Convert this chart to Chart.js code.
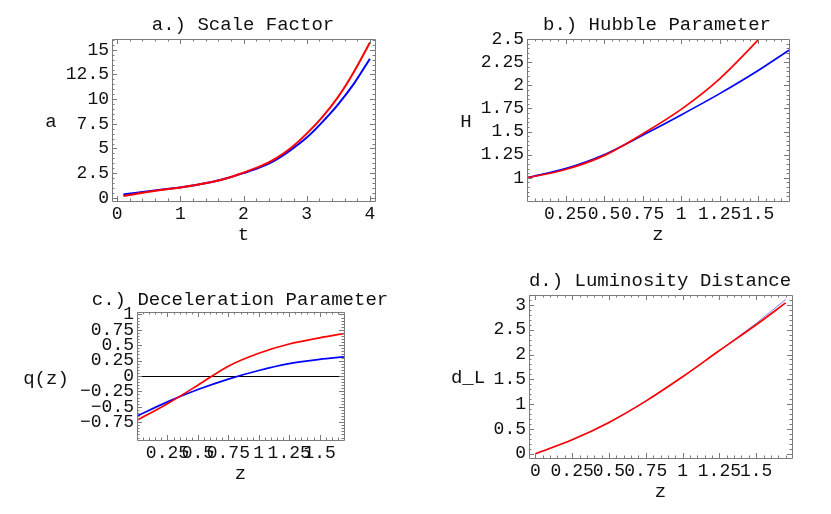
<!DOCTYPE html>
<html><head><meta charset="utf-8">
<script src="https://cdn.jsdelivr.net/npm/chart.js@4/dist/chart.umd.min.js"></script>
<style>
html,body{margin:0;padding:0;background:#fff;}
#wrap{position:relative;width:831px;height:514px;overflow:hidden;background:#fff;}
.pane{position:absolute;left:0;top:0;}
.ylab{position:absolute;font-family:'Liberation Mono',monospace;font-size:19px;color:#111;transform:translate(-50%,-50%);white-space:nowrap;line-height:1;}
</style></head><body>
<div id="wrap">
  <canvas class="pane" id="ca" width="1100" height="514"></canvas>
  <canvas class="pane" id="cb" width="1100" height="514"></canvas>
  <canvas class="pane" id="cc" width="1100" height="514"></canvas>
  <canvas class="pane" id="cd" width="1100" height="514"></canvas>
  <div class="ylab" id="la" style="left:51px;top:122px;"></div>
  <div class="ylab" id="lb" style="left:466px;top:122px;"></div>
  <div class="ylab" id="lc" style="left:46px;top:379px;"></div>
  <div class="ylab" id="ld" style="left:468px;top:378px;"></div>
</div>
<script>
// ---------- a.) Scale Factor ----------
const tA      = [0.1, 0.25, 0.5, 0.75, 1, 1.25, 1.5, 1.75, 2, 2.25, 2.5, 2.75, 3, 3.25, 3.5, 3.75, 4];
const aRed    = [0.17, 0.33, 0.6, 0.83, 1.05, 1.3, 1.6, 2.0, 2.55, 3.15, 3.95, 5.05, 6.5, 8.2, 10.25, 12.8, 15.75];
const aBlue   = [0.33, 0.45, 0.66, 0.86, 1.05, 1.3, 1.6, 2.0, 2.5, 3.05, 3.8, 4.85, 6.1, 7.7, 9.5, 11.6, 14.1];
const aXTicks = [0, 1, 2, 3, 4];
const aXLabels = ['0', '1', '2', '3', '4'];
const aYTicks = [0, 2.5, 5, 7.5, 10, 12.5, 15];
const aYLabels = ['0', '2.5', '5', '7.5', '10', '12.5', '15'];

// ---------- b.) Hubble Parameter ----------
const zB      = [0, 0.25, 0.5, 0.75, 1, 1.25, 1.5, 1.7];
const hRed    = [1.0, 1.09, 1.24, 1.475, 1.74, 2.07, 2.49, 2.85];
const hBlue   = [1.0, 1.10, 1.25, 1.46, 1.68, 1.91, 2.16, 2.38];
const bXTicks = [0.25, 0.5, 0.75, 1, 1.25, 1.5];
const bXLabels = ['0.25', '0.5', '0.75', '1', '1.25', '1.5'];
const bYTicks = [1, 1.25, 1.5, 1.75, 2, 2.25, 2.5];
const bYLabels = ['1', '1.25', '1.5', '1.75', '2', '2.25', '2.5'];

// ---------- c.) Deceleration Parameter ----------
const zC      = [0, 0.25, 0.5, 0.75, 1, 1.25, 1.5, 1.7];
const qRed    = [-0.72, -0.45, -0.15, 0.16, 0.37, 0.52, 0.62, 0.69];
const qBlue   = [-0.65, -0.42, -0.22, -0.05, 0.09, 0.2, 0.27, 0.31];
const cXTicks = [0.25, 0.5, 0.75, 1, 1.25, 1.5];
const cXLabels = ['0.25', '0.5', '0.75', '1', '1.25', '1.5'];
const cYTicks = [-0.75, -0.5, -0.25, 0, 0.25, 0.5, 0.75, 1];
const cYLabels = ['\u22120.75', '\u22120.5', '\u22120.25', '0', '0.25', '0.5', '0.75', '1'];

// ---------- d.) Luminosity Distance ----------
const zD      = [0, 0.25, 0.5, 0.75, 1, 1.25, 1.5, 1.7];
const dRed    = [0, 0.28, 0.63, 1.06, 1.55, 2.08, 2.6, 3.04];
const dBlue   = [0, 0.28, 0.63, 1.06, 1.55, 2.08, 2.63, 3.11];
const dXTicks = [0, 0.25, 0.5, 0.75, 1, 1.25, 1.5];
const dXLabels = ['0', '0.25', '0.5', '0.75', '1', '1.25', '1.5'];
const dYTicks = [0, 0.5, 1, 1.5, 2, 2.5, 3];
const dYLabels = ['0', '0.5', '1', '1.5', '2', '2.5', '3'];

const titles = ['a.) Scale Factor', 'b.) Hubble Parameter', 'c.) Deceleration Parameter', 'd.) Luminosity Distance'];
const xTitles = ['t', 'z', 'z', 'z'];
const yTitles = ['a', 'H', 'q(z)', 'd_L'];

const FONT = "'Liberation Mono', 'DejaVu Sans Mono', monospace";
const TXT = '#111';
const CW = 1100, CH = 514;

const framePlugin = {
  id: 'frameTicks',
  afterDatasetsDraw(chart, args, opts) {
    const ctx = chart.ctx, a = chart.chartArea;
    const xs = chart.scales.x, ys = chart.scales.y;
    ctx.save();
    ctx.strokeStyle = '#7a7a7a';
    ctx.lineWidth = 1;
    ctx.beginPath();
    ctx.rect(Math.round(a.left) + 0.5, Math.round(a.top) + 0.5, Math.round(a.right - a.left), Math.round(a.bottom - a.top));
    ctx.stroke();
    const tickSet = (scale, majors, minorStep) => {
      const out = [];
      for (const v of majors) out.push([v, 5]);
      const n0 = Math.ceil(scale.min / minorStep - 1e-9), n1 = Math.floor(scale.max / minorStep + 1e-9);
      for (let k = n0; k <= n1; k++) {
        const v = k * minorStep;
        if (!majors.some(m => Math.abs(m - v) < 1e-9)) out.push([v, 2.5]);
      }
      return out;
    };
    ctx.beginPath();
    for (const [v, len] of tickSet(xs, opts.xMajor, opts.xMinor)) {
      const px = Math.round(xs.getPixelForValue(v)) + 0.5;
      if (px < a.left || px > a.right) continue;
      ctx.moveTo(px, a.bottom); ctx.lineTo(px, a.bottom - len);
      ctx.moveTo(px, a.top); ctx.lineTo(px, a.top + len);
    }
    for (const [v, len] of tickSet(ys, opts.yMajor, opts.yMinor)) {
      const py = Math.round(ys.getPixelForValue(v)) + 0.5;
      if (py < a.top || py > a.bottom) continue;
      ctx.moveTo(a.left, py); ctx.lineTo(a.left + len, py);
      ctx.moveTo(a.right, py); ctx.lineTo(a.right - len, py);
    }
    ctx.stroke();
    ctx.restore();
  }
};

function pts(xs, ys) { return xs.map((x, i) => ({ x: x, y: ys[i] })); }

function makeChart(id, L, p) {
  // title box spans [pl, titleCx + half]; centred on L.titleCx
  const half = Math.min(L.titleCx, CW - L.titleCx);
  const pl = L.titleCx - half;
  const boxRight = L.titleCx + half;
  const pr = CW - boxRight;
  const titleTop = L.titleCy - 11.4 - L.rowTop;
  const titleBottom = L.top - L.titleCy - 11.4;
  return new Chart(document.getElementById(id), {
    type: 'line',
    data: {
      datasets: [
        { data: pts(p.x, p.red), borderColor: '#ff0000', borderWidth: p.lw, pointRadius: 0, cubicInterpolationMode: 'monotone', fill: false },
        { data: pts(p.x, p.blue), borderColor: p.blueColor || '#0000ff', borderWidth: p.blw || p.lw, pointRadius: 0, cubicInterpolationMode: 'monotone', fill: false }
      ]
    },
    options: {
      responsive: false,
      animation: false,
      events: [],
      layout: { autoPadding: false, padding: { left: pl, top: L.rowTop, bottom: CH - L.rowBottom, right: pr } },
      plugins: {
        legend: { display: false },
        tooltip: { enabled: false },
        title: {
          display: true, text: p.title, fullSize: true, color: TXT,
          font: { family: FONT, size: 19, weight: 'normal', lineHeight: 1.2 },
          padding: { top: titleTop, bottom: titleBottom }
        },
        frameTicks: { xMajor: p.xTicks, xMinor: p.xMinor, yMajor: p.yTicks, yMinor: p.yMinor }
      },
      scales: {
        x: {
          type: 'linear', min: p.xMin, max: p.xMax,
          afterBuildTicks: s => { s.ticks = p.xTicks.map(v => ({ value: v })); },
          afterFit: s => { s.height = L.rowBottom - L.bottom; },
          ticks: { autoSkip: false, maxRotation: 0, minRotation: 0, padding: 2, color: TXT,
                   font: { family: FONT, size: 18 }, callback: (v, i) => p.xLabels[i] },
          grid: { display: false, drawTicks: false },
          border: { display: false },
          title: { display: true, text: p.xTitle, color: TXT,
                   font: { family: FONT, size: 19, lineHeight: 1.2 },
                   padding: { top: 0, bottom: L.rowBottom - L.xTitleCy - 11.4 } }
        },
        y: {
          type: 'linear', min: p.yMin, max: p.yMax,
          afterBuildTicks: s => { s.ticks = p.yTicks.map(v => ({ value: v })); },
          afterFit: s => { s.width = L.left - pl; },
          ticks: { autoSkip: false, padding: 3, color: TXT,
                   font: { family: FONT, size: 18 }, callback: (v, i) => p.yLabels[i] },
          grid: p.zeroLine ? { display: true, drawTicks: false, drawOnChartArea: true, lineWidth: 1,
                   color: c => (c.tick && c.tick.value === 0) ? '#000000' : 'rgba(0,0,0,0)' } : { display: false, drawTicks: false },
          border: { display: false }
        },
        yPad: {
          type: 'linear', position: 'right', display: true,
          afterFit: s => { s.width = boxRight - L.right; },
          ticks: { display: false },
          grid: { display: false, drawTicks: false },
          border: { display: false }
        }
      }
    },
    plugins: [framePlugin]
  });
}

makeChart('ca', { rowTop: 0, rowBottom: 257, left: 112, right: 375, top: 39, bottom: 201, titleCx: 243, titleCy: 25, xTitleCy: 235 },
  { x: tA, red: aRed, blue: aBlue, lw: 2, title: titles[0], xTitle: xTitles[0],
    xMin: -0.08, xMax: 4.08, yMin: -0.33, yMax: 16.1,
    xTicks: aXTicks, xLabels: aXLabels, yTicks: aYTicks, yLabels: aYLabels, xMinor: 0.2, yMinor: 0.5 });

makeChart('cb', { rowTop: 0, rowBottom: 257, left: 527, right: 789, top: 39, bottom: 201, titleCx: 657, titleCy: 25, xTitleCy: 235 },
  { x: zB, red: hRed, blue: hBlue, lw: 1.7, title: titles[1], xTitle: xTitles[1],
    xMin: 0, xMax: 1.7, yMin: 0.75, yMax: 2.5,
    xTicks: bXTicks, xLabels: bXLabels, yTicks: bYTicks, yLabels: bYLabels, xMinor: 0.05, yMinor: 0.05 });

makeChart('cc', { rowTop: 257, rowBottom: 514, left: 137, right: 344, top: 312, bottom: 440, titleCx: 240, titleCy: 299.7, xTitleCy: 473.7 },
  { x: zC, red: qRed, blue: qBlue, lw: 1.7, title: titles[2], xTitle: xTitles[2],
    xMin: 0, xMax: 1.7, yMin: -1.04, yMax: 1.04, zeroLine: true,
    xTicks: cXTicks, xLabels: cXLabels, yTicks: cYTicks, yLabels: cYLabels, xMinor: 0.05, yMinor: 0.05 });

makeChart('cd', { rowTop: 257, rowBottom: 514, left: 529, right: 792, top: 295, bottom: 458, titleCx: 660, titleCy: 281, xTitleCy: 492 },
  { x: zD, red: dRed, blue: dBlue, lw: 1.7, blw: 1, blueColor: 'rgba(90,90,255,0.8)', title: titles[3], xTitle: xTitles[3],
    xMin: -0.043, xMax: 1.743, yMin: -0.087, yMax: 3.2,
    xTicks: dXTicks, xLabels: dXLabels, yTicks: dYTicks, yLabels: dYLabels, xMinor: 0.05, yMinor: 0.1 });

document.getElementById('la').textContent = yTitles[0];
document.getElementById('lb').textContent = yTitles[1];
document.getElementById('lc').textContent = yTitles[2];
document.getElementById('ld').textContent = yTitles[3];
</script>
</body></html>
